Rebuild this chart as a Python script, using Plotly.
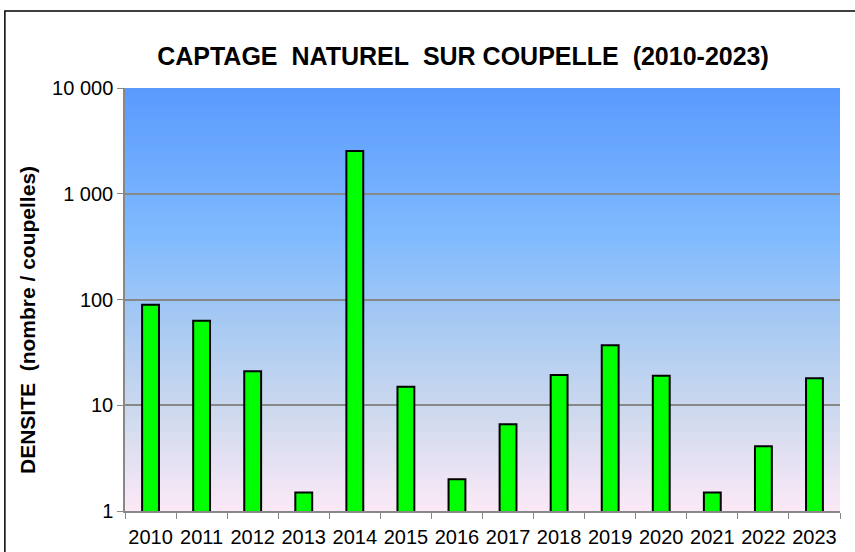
import plotly.graph_objects as go

years = [str(y) for y in range(2010, 2024)]
densite = [89, 63, 21, 1.5, 2540, 15, 2.0, 6.6, 19.3, 37, 19, 1.5, 4.1, 18]

y_tickvals = [1, 10, 100, 1000, 10000]
y_ticktext = ["1", "10", "100", "1 000", "10 000"]

# gradient stops for the plot background (top -> bottom)
grad_stops = [(0.0, (90, 154, 254)), (0.35, (128, 186, 254)),
              (0.55, (166, 201, 243)), (0.78, (208, 218, 238)),
              (1.0, (252, 233, 247))]


def grad_color(t):
    for (t0, c0), (t1, c1) in zip(grad_stops[:-1], grad_stops[1:]):
        if t0 <= t <= t1:
            f = (t - t0) / (t1 - t0)
            r, g, b = (round(a + (bb - a) * f) for a, bb in zip(c0, c1))
            return f"rgb({r},{g},{b})"
    return "rgb(252,233,247)"


fig = go.Figure(go.Bar(
    x=years, y=densite, width=0.33,
    marker=dict(color="#00FF00", line=dict(color="black", width=2)),
))

shapes = []
n = 200
for i in range(n):
    t = (i + 0.5) / n
    shapes.append(dict(type="rect", xref="paper", yref="paper",
                       x0=0, x1=1, y0=1 - (i + 1) / n - 0.002, y1=1 - i / n,
                       fillcolor=grad_color(t), line=dict(width=0), layer="below"))
# outer chart border (runs off the right and bottom edges)
shapes.append(dict(type="rect", xref="paper", yref="paper",
                   x0=-0.168, x1=1.2, y0=-0.3, y1=1.182,
                   line=dict(color="black", width=1.5), fillcolor="rgba(0,0,0,0)"))

sp = "\u00a0\u00a0"
fig.update_layout(
    width=855, height=552,
    margin=dict(l=125, r=15, t=88, b=41, autoexpand=False),
    paper_bgcolor="white", plot_bgcolor="rgba(0,0,0,0)",
    font=dict(family="Arial, Liberation Sans, sans-serif", color="black"),
    title=dict(text=f"<b>CAPTAGE{sp}NATUREL{sp}SUR COUPELLE{sp}(2010-2023)</b>",
               x=463 / 855, xref="container", xanchor="center",
               y=1 - 56 / 552, yref="container", yanchor="middle",
               font=dict(size=25, color="black")),
    shapes=shapes,
    showlegend=False,
    annotations=[dict(
        text="<b>DENSITE\u00a0 (nombre / coupelles)</b>", textangle=-90,
        xref="paper", yref="paper", x=(27 - 125) / 715, y=(511 - 320) / 423,
        xanchor="center", yanchor="middle", showarrow=False,
        font=dict(size=21, color="black"),
    )],
)
fig.update_xaxes(
    type="category", tickfont=dict(size=20), tickangle=0, ticks="outside",
    tickson="boundaries", ticklen=6, tickcolor="#888888", showline=True,
    linecolor="#888888", linewidth=1.5, showgrid=False, automargin=False,
    ticklabelstandoff=7,
)
fig.update_yaxes(
    type="log", range=[0, 4], tickvals=y_tickvals, ticktext=y_ticktext,
    tickfont=dict(size=20), ticks="outside", ticklen=6, tickcolor="#888888",
    showline=True, linecolor="#888888", linewidth=1.5,
    showgrid=True, gridcolor="#888888", gridwidth=1.5, automargin=False,
)

fig.write_html("out.html", config={"displayModeBar": False},
               post_script="document.body.style.margin='0';")
